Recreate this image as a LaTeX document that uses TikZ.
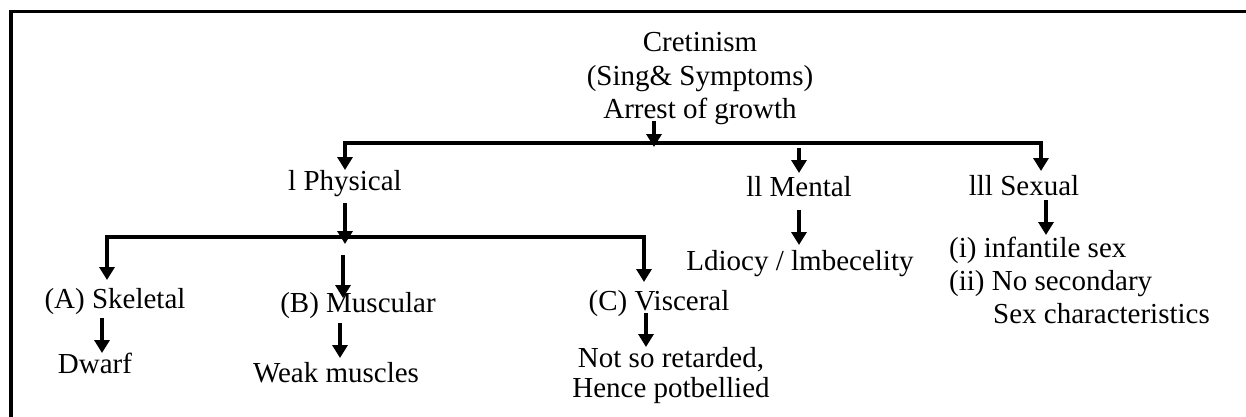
\documentclass[tikz,border=0pt]{standalone}
\usepackage{fontspec}
\setmainfont{Liberation Serif}
\usetikzlibrary{arrows.meta}
\begin{document}
\begin{tikzpicture}[x=1pt,y=-1pt,
  lbl/.style={inner sep=0pt,font=\fontsize{29}{33.5}\selectfont},
  cen/.style={lbl,anchor=base},
  lft/.style={lbl,anchor=base west},
  arr/.style={line width=3.6pt,-{Triangle[length=13pt,width=15pt]}},
  bus/.style={line width=3.6pt,{Triangle[length=13pt,width=15pt]}-{Triangle[length=13pt,width=15pt]}},
  frame/.style={line width=3.8pt}]
\useasboundingbox (0,0) rectangle (1246,416);
\clip (0,0) rectangle (1246,416);
\draw[frame] (11,11.5) rectangle (1300,480);
% texts
\node[cen] (t1) at (700,51) {Cretinism};
\node[cen] (t2) at (700,85) {(Sing\& Symptoms)};
\node[cen] (t3) at (700,118) {Arrest of growth};
\node[cen] (phy) at (345,190) {l Physical};
\node[cen] (men) at (799,196) {ll Mental};
\node[cen] (sex) at (1024,195) {lll Sexual};
\node[cen] (idi) at (800,270) {Ldiocy / lmbecelity};
\node[lft] (s1) at (949,257) {(i) infantile sex};
\node[lft] (s2) at (949,290) {(ii) No secondary};
\node[lft] (s3) at (993,323) {Sex characteristics};
\node[cen] (ske) at (115,308) {(A) Skeletal};
\node[cen] (mus) at (358,312) {(B) Muscular};
\node[cen] (vis) at (659,310) {(C) Visceral};
\node[cen] (dwa) at (95,373) {Dwarf};
\node[cen] (wea) at (336,382) {Weak muscles};
\node[cen] (ns1) at (671,367) {Not so retarded,};
\node[cen] (ns2) at (671,397) {Hence potbellied};
% connector points
\coordinate (a0) at (654,121);
\coordinate (a1) at (654,147);
\coordinate (b1a) at (345,170);
\coordinate (b1b) at (345,143);
\coordinate (b1c) at (1041,143);
\coordinate (b1d) at (1041,171);
\coordinate (m0) at (799,148);
\coordinate (m1) at (799,173);
\coordinate (p0) at (345,203);
\coordinate (p1) at (345,244);
\coordinate (b2a) at (107,280);
\coordinate (b2b) at (107,237);
\coordinate (b2c) at (644,237);
\coordinate (b2d) at (644,282);
\coordinate (u0) at (343,255);
\coordinate (u1) at (343,298);
\coordinate (k0) at (102,318);
\coordinate (k1) at (102,353);
\coordinate (w0) at (340,323);
\coordinate (w1) at (340,358);
\coordinate (v0) at (646,313);
\coordinate (v1) at (646,347);
\coordinate (i0) at (799,210);
\coordinate (i1) at (799,245);
\coordinate (x0) at (1046,200);
\coordinate (x1) at (1046,235);
% connectors
\draw[arr] (a0) -- (a1);
\draw[bus] (b1a) -- (b1b) -- (b1c) -- (b1d);
\draw[arr] (m0) -- (m1);
\draw[arr] (p0) -- (p1);
\draw[bus] (b2a) -- (b2b) -- (b2c) -- (b2d);
\draw[arr] (u0) -- (u1);
\draw[arr] (k0) -- (k1);
\draw[arr] (w0) -- (w1);
\draw[arr] (v0) -- (v1);
\draw[arr] (i0) -- (i1);
\draw[arr] (x0) -- (x1);
\end{tikzpicture}
\end{document}
